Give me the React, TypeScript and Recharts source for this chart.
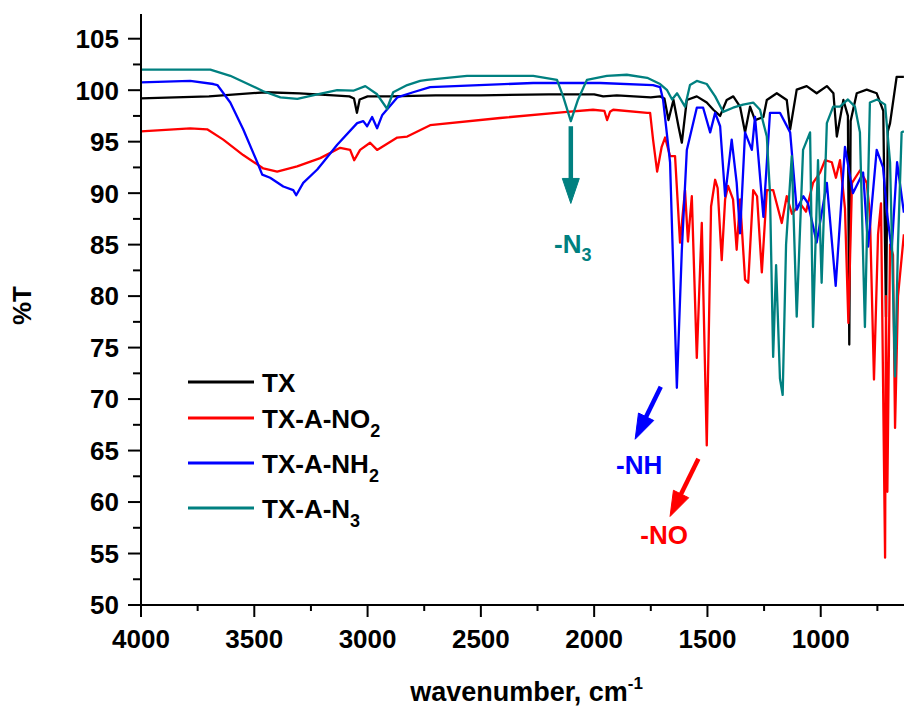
import React from 'react';
import { LineChart, Line, XAxis, YAxis, Legend, ReferenceLine } from 'recharts';

const FONT = "'Liberation Sans', Arial, Helvetica, sans-serif";

// wavenumber (cm-1) / %T pairs
const txWn = [4000, 3850, 3700, 3450, 3300, 3150, 3080, 3060, 3047, 3035, 3000, 2900, 2700, 2500, 2200, 2000, 1960, 1900, 1750, 1709, 1690, 1672, 1650, 1628, 1613, 1591, 1547, 1503, 1474, 1444, 1415, 1386, 1356, 1334, 1312, 1290, 1253, 1238, 1194, 1150, 1135, 1106, 1062, 1018, 973, 944, 929, 900, 880, 874, 868, 841, 797, 753, 724, 712, 704, 694, 665, 633];
const txT = [99.2, 99.3, 99.4, 99.8, 99.7, 99.5, 99.4, 99.2, 97.8, 99.1, 99.4, 99.4, 99.5, 99.5, 99.6, 99.6, 99.4, 99.5, 99.3, 99.4, 99.2, 97.1, 99.05, 96.5, 94.9, 99.05, 99.4, 98.8, 98.1, 97.5, 99.05, 99.4, 98.4, 95.9, 98.4, 97.1, 97.4, 99.05, 99.7, 99.05, 96.2, 100.05, 100.4, 99.7, 100.4, 99.7, 95.5, 99.05, 97.5, 75.3, 97.0, 99.7, 100.05, 99.7, 98.0, 78.0, 96.0, 96.8, 101.3, 101.3];

const no2Wn = [4000, 3783, 3708, 3637, 3549, 3460, 3399, 3311, 3209, 3121, 3077, 3059, 3033, 2989, 2958, 2869, 2825, 2724, 2415, 2120, 2005, 1955, 1943, 1930, 1916, 1766, 1753, 1740, 1722, 1702, 1687, 1665, 1643, 1621, 1599, 1586, 1569, 1547, 1525, 1503, 1484, 1466, 1455, 1437, 1422, 1409, 1387, 1371, 1356, 1334, 1320, 1298, 1281, 1260, 1238, 1210, 1172, 1150, 1127, 1091, 1065, 1034, 1003, 981, 951, 933, 915, 893, 878, 862, 827, 797, 783, 765, 747, 734, 716, 712, 706, 694, 681, 672, 659, 633];
const no2T = [96.0, 96.3, 96.2, 95.2, 93.7, 92.4, 92.1, 92.6, 93.4, 94.4, 94.2, 93.2, 94.2, 94.9, 94.2, 95.4, 95.5, 96.6, 97.3, 97.9, 98.1, 98.0, 97.1, 97.9, 98.1, 97.8, 97.8, 95.2, 92.1, 94.5, 95.4, 93.6, 93.6, 85.2, 90.3, 85.3, 89.7, 74.0, 87.1, 65.5, 88.7, 91.3, 90.5, 83.5, 89.4, 90.7, 89.4, 84.5, 89.4, 81.6, 81.3, 90.3, 89.7, 82.3, 90.3, 90.3, 87.1, 89.7, 88.0, 89.0, 88.2, 91.0, 92.0, 93.2, 93.0, 91.5, 93.2, 88.5, 77.4, 91.0, 92.2, 91.0, 88.0, 71.9, 86.0, 89.0, 54.6, 80.0, 61.0, 85.0, 84.0, 67.2, 80.0, 86.0];

const nh2Wn = [4000, 3783, 3681, 3663, 3606, 3549, 3487, 3465, 3430, 3372, 3328, 3315, 3284, 3222, 3196, 3134, 3046, 3019, 3002, 2980, 2958, 2935, 2869, 2799, 2724, 2269, 1973, 1740, 1709, 1696, 1665, 1635, 1613, 1591, 1547, 1519, 1488, 1466, 1444, 1422, 1393, 1371, 1356, 1334, 1304, 1290, 1253, 1224, 1180, 1135, 1106, 1077, 1056, 1018, 973, 934, 893, 858, 813, 791, 753, 725, 707, 687, 663, 633];
const nh2T = [100.75, 100.9, 100.6, 100.5, 98.8, 96.2, 93.0, 91.8, 91.5, 90.65, 90.3, 89.8, 91.0, 92.3, 93.0, 94.7, 96.8, 97.0, 96.5, 97.4, 96.3, 97.6, 99.3, 99.8, 100.3, 100.7, 100.7, 100.5, 100.3, 99.1, 93.0, 71.1, 84.5, 94.2, 98.3, 98.3, 95.9, 97.8, 96.5, 89.7, 95.2, 91.0, 86.1, 95.9, 94.2, 97.4, 87.7, 97.8, 97.8, 95.9, 88.4, 89.7, 89.0, 85.2, 91.0, 81.0, 94.5, 90.0, 92.0, 84.8, 94.2, 92.5, 88.0, 84.5, 93.0, 88.1];

const n3Wn = [4000, 3738, 3694, 3606, 3460, 3385, 3310, 3222, 3134, 3063, 3010, 2958, 2914, 2887, 2825, 2768, 2737, 2561, 2269, 2164, 2137, 2103, 2071, 2032, 1944, 1856, 1766, 1709, 1678, 1656, 1634, 1599, 1577, 1547, 1503, 1466, 1431, 1387, 1343, 1298, 1268, 1238, 1224, 1210, 1197, 1180, 1168, 1153, 1128, 1106, 1078, 1047, 1034, 1012, 996, 973, 945, 915, 880, 849, 827, 805, 783, 751, 716, 694, 672, 659, 643, 633];
const n3T = [102.0, 102.0, 102.0, 101.4, 99.9, 99.3, 99.15, 99.6, 100.0, 99.95, 100.4, 99.6, 98.2, 99.8, 100.5, 100.9, 101.0, 101.4, 101.4, 101.0, 99.4, 97.0, 99.1, 101.0, 101.4, 101.5, 101.2, 100.6, 100.0, 99.1, 99.7, 98.4, 100.5, 100.9, 100.6, 99.4, 97.9, 98.3, 98.6, 98.8, 98.1, 95.5, 90.0, 74.1, 83.0, 72.0, 70.4, 85.0, 93.6, 78.0, 94.2, 95.9, 77.0, 93.2, 81.3, 96.8, 98.4, 98.4, 99.1, 98.4, 95.9, 77.0, 98.8, 99.1, 98.6, 93.0, 72.2, 85.0, 95.9, 96.0];

const xTicks = [4000, 3750, 3500, 3250, 3000, 2750, 2500, 2250, 2000, 1750, 1500, 1250, 1000, 750];
const yTicks = [50, 52.5, 55, 57.5, 60, 62.5, 65, 67.5, 70, 72.5, 75, 77.5, 80, 82.5, 85, 87.5, 90, 92.5, 95, 97.5, 100, 102.5, 105];

const toPoints = (wn: number[], t: number[]) => wn.map((w, i) => ({ wn: w, t: t[i] }));

const series = [
  { key: 'tx', label: 'TX', sub: '', color: '#000000', data: toPoints(txWn, txT) },
  { key: 'no2', label: 'TX-A-NO', sub: '2', color: '#ff0000', data: toPoints(no2Wn, no2T) },
  { key: 'nh2', label: 'TX-A-NH', sub: '2', color: '#0000ff', data: toPoints(nh2Wn, nh2T) },
  { key: 'n3', label: 'TX-A-N', sub: '3', color: '#008080', data: toPoints(n3Wn, n3T) },
];

// band annotations: arrow from -> to (in data units), text offset from the tip in px
const arrows = [
  { color: '#008080', from: { x: 2103, y: 96.5 }, to: { x: 2103, y: 89.0 }, text: '-N', sub: '3', dx: 2, dy: 50 },
  { color: '#0000ff', from: { x: 1706, y: 71.2 }, to: { x: 1819, y: 66.1 }, text: '-NH', sub: '', dx: 4, dy: 35 },
  { color: '#ff0000', from: { x: 1540, y: 64.2 }, to: { x: 1665, y: 58.6 }, text: '-NO', sub: '', dx: -6, dy: 28 },
];

const XTick = (props: any) => {
  const { x, y, payload } = props;
  const major = payload.value % 500 === 0;
  return (
    <g>
      <line x1={x} x2={x} y1={y} y2={y + (major ? 12 : 6)} stroke="#000" strokeWidth={2} />
      {major && (
        <text x={x} y={y + 43} textAnchor="middle" fontFamily={FONT} fontWeight="bold" fontSize={26} fill="#000">
          {payload.value}
        </text>
      )}
    </g>
  );
};

const YTick = (props: any) => {
  const { x, y, payload } = props;
  const major = payload.value % 5 === 0;
  return (
    <g>
      <line x1={x - (major ? 13 : 8)} x2={x} y1={y} y2={y} stroke="#000" strokeWidth={2} />
      {major && (
        <text x={x - 22} y={y} dy="0.36em" textAnchor="end" fontFamily={FONT} fontWeight="bold" fontSize={26} fill="#000">
          {payload.value}
        </text>
      )}
    </g>
  );
};

const XTitle = (props: any) => {
  const vb = props.viewBox;
  return (
    <text x={vb.x + vb.width / 2 + 4} y={vb.y + 96} textAnchor="middle" fontFamily={FONT} fontWeight="bold" fontSize={27} fill="#000">
      wavenumber, cm
      <tspan fontSize={17} dy={-12}>-1</tspan>
    </text>
  );
};

const YTitle = (props: any) => {
  const vb = props.viewBox;
  const cx = vb.x - 50;
  const cy = vb.y + vb.height / 2 - 4;
  return (
    <text x={cx} y={cy} transform={`rotate(-90 ${cx} ${cy})`} textAnchor="middle" fontFamily={FONT} fontWeight="bold" fontSize={26} fill="#000">
      %T
    </text>
  );
};

const renderLegend = () => {
  const rows = [22, 58, 103, 148];
  return (
    <svg width={260} height={175}>
      {series.map((s, i) => (
        <g key={s.key}>
          <line x1={8} x2={74} y1={rows[i]} y2={rows[i]} stroke={s.color} strokeWidth={3} />
          <text x={82} y={rows[i] + 10} fontFamily={FONT} fontWeight="bold" fontSize={26} fill="#000">
            {s.label}
            {s.sub && <tspan fontSize={18} dy={9}>{s.sub}</tspan>}
          </text>
        </g>
      ))}
    </svg>
  );
};

const arrowShape = (a: (typeof arrows)[number]) => (p: any) => {
  const { x1, y1, x2, y2 } = p;
  const len = Math.hypot(x2 - x1, y2 - y1) || 1;
  const ux = (x2 - x1) / len;
  const uy = (y2 - y1) / len;
  const head = 25;
  const half = 8.5;
  const bx = x2 - ux * head;
  const by = y2 - uy * head;
  const pts = `${x2},${y2} ${bx - uy * half},${by + ux * half} ${bx + uy * half},${by - ux * half}`;
  return (
    <g>
      <line x1={x1} y1={y1} x2={bx + ux * 2} y2={by + uy * 2} stroke={a.color} strokeWidth={4.5} />
      <polygon points={pts} fill={a.color} stroke={a.color} strokeLinejoin="round" strokeWidth={1} />
      <text x={x2 + a.dx} y={y2 + a.dy} textAnchor="middle" fontFamily={FONT} fontWeight="bold" fontSize={26} fill={a.color}>
        {a.text}
        {a.sub && <tspan fontSize={18} dy={8}>{a.sub}</tspan>}
      </text>
    </g>
  );
};

export default function App() {
  return (
    <div style={{ position: 'absolute', left: 0, top: 0, width: 904, height: 708, background: '#fff' }}>
      <LineChart width={904} height={708} margin={{ top: 14, right: 0, bottom: 43, left: 81 }}>
        <XAxis
          type="number"
          dataKey="wn"
          domain={[632.5, 4000]}
          reversed
          allowDataOverflow
          ticks={xTicks}
          interval={0}
          tickSize={0}
          tickMargin={0}
          tickLine={false}
          tick={<XTick />}
          axisLine={{ stroke: '#000', strokeWidth: 2 }}
          height={60}
          label={{ content: XTitle }}
        />
        <YAxis
          type="number"
          dataKey="t"
          domain={[50, 107.4]}
          allowDataOverflow
          ticks={yTicks}
          interval={0}
          tickSize={0}
          tickMargin={0}
          tickLine={false}
          tick={<YTick />}
          axisLine={{ stroke: '#000', strokeWidth: 2 }}
          width={60}
          label={{ content: YTitle }}
        />
        {series.map((s) => (
          <Line
            key={s.key}
            data={s.data}
            dataKey="t"
            name={s.label + s.sub}
            type="linear"
            stroke={s.color}
            strokeWidth={2.3}
            strokeLinejoin="round"
            dot={false}
            isAnimationActive={false}
          />
        ))}
        {arrows.map((a, i) => (
          <ReferenceLine key={i} segment={[a.from, a.to]} shape={arrowShape(a)} />
        ))}
        <Legend
          layout="horizontal"
          verticalAlign="middle"
          align="center"
          content={renderLegend}
          wrapperStyle={{ left: 180, top: 360, width: 260, height: 175 }}
        />
      </LineChart>
    </div>
  );
}
